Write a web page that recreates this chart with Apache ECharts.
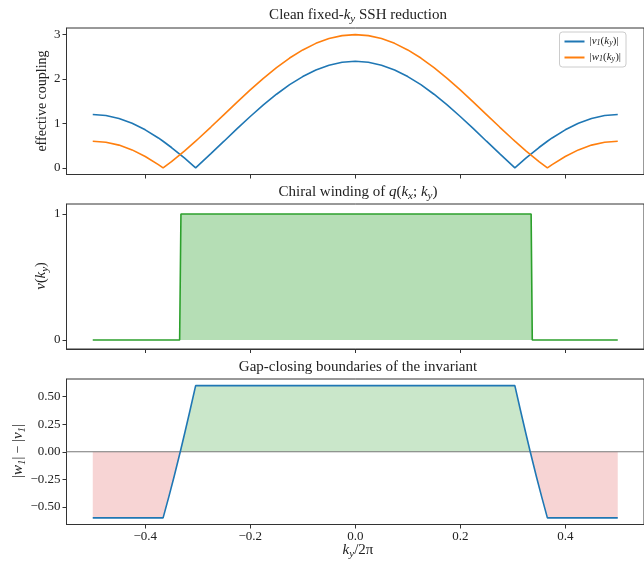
<!DOCTYPE html>
<html>
<head>
<meta charset="utf-8">
<script src="https://cdn.jsdelivr.net/npm/echarts@6/dist/echarts.min.js"></script>
<style>
  html, body { margin: 0; padding: 0; background: #fff; }
  #main { width: 644px; height: 561px; }
</style>
</head>
<body>
<div id="main"></div>
<script>
// ky/2pi samples for the top panel (kinks at the zeros of |v1| and |w1|)
var kyTop = [-0.5, -0.475, -0.45, -0.425, -0.4, -0.375, -0.366, -0.35, -0.325, -0.304, -0.3, -0.275,
  -0.25, -0.225, -0.2, -0.175, -0.15, -0.125, -0.1, -0.075, -0.05, -0.025, 0,
  0.025, 0.05, 0.075, 0.1, 0.125, 0.15, 0.175, 0.2, 0.225, 0.25, 0.275, 0.3, 0.304,
  0.325, 0.35, 0.366, 0.375, 0.4, 0.425, 0.45, 0.475, 0.5];
var vAbs = [1.200, 1.178, 1.112, 1.004, 0.856, 0.673, 0.599, 0.458, 0.217, 0, 0.044, 0.319,
  0.600, 0.882, 1.156, 1.417, 1.658, 1.873, 2.056, 2.204, 2.312, 2.378, 2.400,
  2.378, 2.312, 2.204, 2.056, 1.873, 1.658, 1.417, 1.156, 0.882, 0.600, 0.319, 0.044, 0,
  0.217, 0.458, 0.599, 0.673, 0.856, 1.004, 1.112, 1.178, 1.200];
var wAbs = [0.600, 0.578, 0.512, 0.404, 0.256, 0.073, 0, 0.142, 0.383, 0.600, 0.644, 0.919,
  1.200, 1.482, 1.756, 2.017, 2.258, 2.473, 2.656, 2.804, 2.912, 2.978, 3.000,
  2.978, 2.912, 2.804, 2.656, 2.473, 2.258, 2.017, 1.756, 1.482, 1.200, 0.919, 0.644, 0.600,
  0.383, 0.142, 0, 0.073, 0.256, 0.404, 0.512, 0.578, 0.600];

// winding number
var kyWind = [-0.5, -0.3345, -0.3320, 0.3350, 0.3372, 0.5];
var nuWind = [0, 0, 1, 1, 0, 0];

// |w1| - |v1|
var kyGap = [-0.5, -0.366, -0.355, -0.345, -0.3333, -0.325, -0.315, -0.304,
  0.304, 0.315, 0.325, 0.3333, 0.345, 0.355, 0.366, 0.5];
var gapVal = [-0.6, -0.6, -0.407, -0.224, 0, 0.166, 0.370, 0.6,
  0.6, 0.370, 0.166, 0, -0.224, -0.407, -0.6, -0.6];

var xTicks = [-0.4, -0.2, 0, 0.2, 0.4];
var yTicksTop = [0, 1, 2, 3];
var yTicksMid = [0, 1];
var yTicksBot = [-0.5, -0.25, 0, 0.25, 0.5];

var FONT = '"Liberation Serif", "DejaVu Serif", serif';
var AX = '#333';
var CX = 358; // horizontal centre of the axes

function pairs(xs, ys) {
  return xs.map(function (x, i) { return [x, ys[i]]; });
}
function minus(s) { return s.replace('-', '\u2212'); }

var rich = {
  i: { fontStyle: 'italic', fontFamily: FONT, fontSize: 15 },
  s: { fontStyle: 'italic', fontFamily: FONT, fontSize: 11, verticalAlign: 'bottom', lineHeight: 13 }
};
var richSmall = {
  i: { fontStyle: 'italic', fontFamily: FONT, fontSize: 11 },
  s: { fontStyle: 'italic', fontFamily: FONT, fontSize: 8, verticalAlign: 'bottom', lineHeight: 10 }
};

var grids = [
  { left: 66.5, width: 583, top: 28, height: 146.5 },
  { left: 66.5, width: 583, top: 204, height: 145 },
  { left: 66.5, width: 583, top: 379, height: 145.5 }
];
grids.forEach(function (g) {
  g.show = true; g.borderColor = AX; g.borderWidth = 1; g.backgroundColor = 'transparent';
});

function xAxis(idx, labels) {
  return {
    type: 'value', gridIndex: idx, min: -0.55, max: 0.55,
    splitLine: { show: false },
    axisLine: { show: true, onZero: false, lineStyle: { color: AX, width: 1 } },
    axisTick: { show: true, inside: false, length: 4, customValues: xTicks, lineStyle: { color: AX } },
    axisLabel: {
      show: labels, customValues: xTicks, fontFamily: FONT, fontSize: 13, color: '#222', margin: 6,
      formatter: function (v) { return minus(v.toFixed(1)); }
    }
  };
}
function yAxis(idx, mn, mx, ticks, dec) {
  return {
    type: 'value', gridIndex: idx, min: mn, max: mx,
    splitLine: { show: false },
    axisLine: { show: true, onZero: false, lineStyle: { color: AX, width: 1 } },
    axisTick: { show: true, inside: false, length: 4, customValues: ticks, lineStyle: { color: AX } },
    axisLabel: {
      customValues: ticks, fontFamily: FONT, fontSize: 13, color: '#222', margin: 6,
      formatter: function (v) { return minus(v.toFixed(dec)); }
    }
  };
}

function label(text, x, y, rot, size) {
  return {
    type: 'text', x: x, y: y, rotation: rot || 0,
    style: {
      text: text, fontFamily: FONT, fontSize: size || 15, fill: '#222',
      align: 'center', verticalAlign: 'middle', lineHeight: 19, rich: rich
    }
  };
}

var chart = echarts.init(document.getElementById('main'), null, { renderer: 'canvas' });
chart.setOption({
  animation: false,
  backgroundColor: '#fff',
  grid: grids,
  xAxis: [xAxis(0, false), xAxis(1, false), xAxis(2, true)],
  yAxis: [
    yAxis(0, -0.15, 3.15, yTicksTop, 0),
    yAxis(1, -0.072, 1.08, yTicksMid, 0),
    yAxis(2, -0.66, 0.66, yTicksBot, 2)
  ],
  legend: {
    right: 18, top: 32, orient: 'vertical',
    data: [{ name: 'v', icon: 'rect' }, { name: 'w', icon: 'rect' }],
    itemWidth: 20, itemHeight: 2, itemGap: 5,
    borderColor: '#ccc', borderWidth: 1, borderRadius: 3, padding: [4, 5, 4, 5],
    backgroundColor: 'rgba(255,255,255,0.8)',
    textStyle: { fontFamily: FONT, fontSize: 11, color: '#222', rich: richSmall },
    formatter: function (n) {
      return n === 'v' ? '|{i|v}{s|1}({i|k}{s|y})|' : '|{i|w}{s|1}({i|k}{s|y})|';
    }
  },
  graphic: [
    label('Clean fixed-{i|k}{s|y} SSH reduction', CX, 15),
    label('Chiral winding of {i|q}({i|k}{s|x}; {i|k}{s|y})', CX, 192),
    label('Gap-closing boundaries of the invariant', CX, 367),
    label('{i|k}{s|y}/2\u03c0', CX, 550),
    label('effective coupling', 42, 101, Math.PI / 2, 14),
    label('{i|\u03bd}({i|k}{s|y})', 41, 276, Math.PI / 2, 14),
    label('|{i|w}{s|1}| \u2212 |{i|v}{s|1}|', 18, 451, Math.PI / 2, 14)
  ],
  series: [
    {
      name: 'v', type: 'line', xAxisIndex: 0, yAxisIndex: 0, showSymbol: false,
      data: pairs(kyTop, vAbs), lineStyle: { color: '#1f77b4', width: 1.6 }, itemStyle: { color: '#1f77b4' }
    },
    {
      name: 'w', type: 'line', xAxisIndex: 0, yAxisIndex: 0, showSymbol: false,
      data: pairs(kyTop, wAbs), lineStyle: { color: '#ff7f0e', width: 1.6 }, itemStyle: { color: '#ff7f0e' }
    },
    {
      name: 'nu', type: 'line', xAxisIndex: 1, yAxisIndex: 1, showSymbol: false,
      data: pairs(kyWind, nuWind), lineStyle: { color: '#2ca02c', width: 1.6 },
      areaStyle: { color: 'rgba(44,160,44,0.35)', opacity: 1, origin: 0 }
    },
    {
      name: 'gapPos', type: 'line', xAxisIndex: 2, yAxisIndex: 2, showSymbol: false,
      data: pairs(kyGap, gapVal.map(function (d) { return Math.max(d, 0); })),
      lineStyle: { width: 0 }, areaStyle: { color: 'rgba(44,160,44,0.25)', opacity: 1, origin: 0 }
    },
    {
      name: 'gapNeg', type: 'line', xAxisIndex: 2, yAxisIndex: 2, showSymbol: false,
      data: pairs(kyGap, gapVal.map(function (d) { return Math.min(d, 0); })),
      lineStyle: { width: 0 }, areaStyle: { color: 'rgba(214,39,40,0.2)', opacity: 1, origin: 0 }
    },
    {
      name: 'zero', type: 'line', xAxisIndex: 2, yAxisIndex: 2, showSymbol: false,
      data: [[-0.55, 0], [0.55, 0]], lineStyle: { color: '#777', width: 1.2 }
    },
    {
      name: 'gap', type: 'line', xAxisIndex: 2, yAxisIndex: 2, showSymbol: false,
      data: pairs(kyGap, gapVal), lineStyle: { color: '#1f77b4', width: 1.6 }
    }
  ]
});
</script>
</body>
</html>
